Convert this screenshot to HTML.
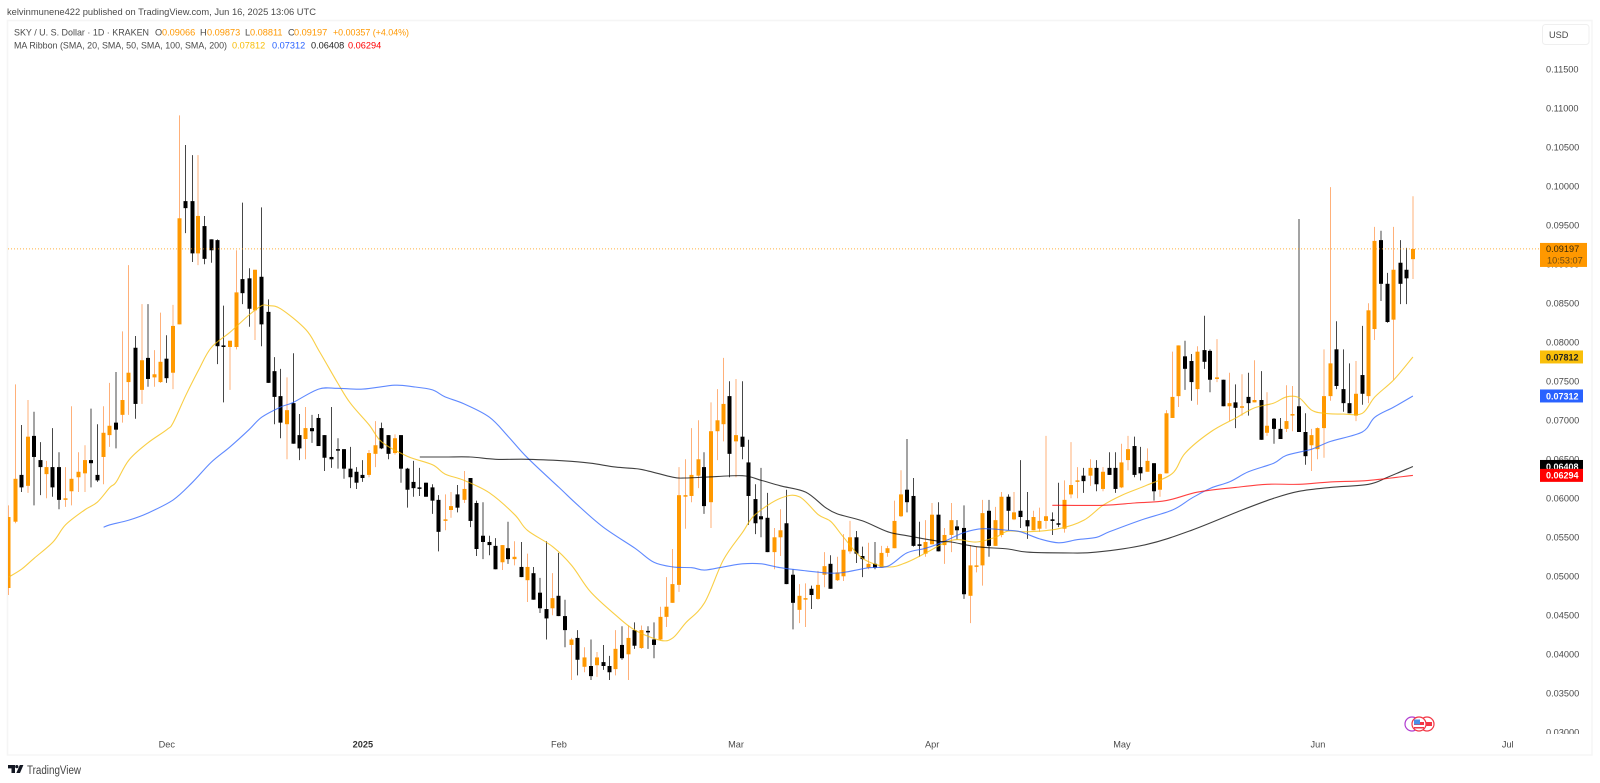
<!DOCTYPE html>
<html lang="en">
<head>
<meta charset="utf-8">
<title>SKY / U.S. Dollar 1D chart</title>
<style>
html,body{margin:0;padding:0;background:#fff;width:1600px;height:783px;overflow:hidden}
svg{display:block;filter:blur(0.3px)}
text{font-family:"Liberation Sans",sans-serif;font-size:9.2px;fill:#4a4a4a}
</style>
</head>
<body>
<svg id="chart" xmlns="http://www.w3.org/2000/svg" width="1600" height="783" viewBox="0 0 1600 783">
  <defs>
    <clipPath id="pane-clip"><rect x="8" y="21" width="1531" height="712"/></clipPath>
    <clipPath id="axis-clip"><rect x="1540" y="48" width="52" height="686"/></clipPath>
  </defs>
  <rect x="0" y="0" width="1600" height="783" fill="#ffffff"/>
  <rect x="7.5" y="20.5" width="1584.5" height="734.5" fill="none" stroke="#f5f5f5" stroke-width="1.5"/>

  <text x="7" y="15" textLength="309" lengthAdjust="spacingAndGlyphs">kelvinmunene422 published on TradingView.com, Jun 16, 2025 13:06 UTC</text>

  <g id="legend">
    <text x="14" y="35.5" textLength="135" lengthAdjust="spacingAndGlyphs">SKY / U. S. Dollar · 1D · KRAKEN</text>
    <text x="155" y="35.5">O</text>
    <text x="162" y="35.5" style="fill:#ff9800">0.09066</text>
    <text x="200" y="35.5">H</text>
    <text x="207" y="35.5" style="fill:#ff9800">0.09873</text>
    <text x="245" y="35.5">L</text>
    <text x="250" y="35.5" style="fill:#ff9800">0.08811</text>
    <text x="288" y="35.5">C</text>
    <text x="294" y="35.5" style="fill:#ff9800">0.09197</text>
    <text x="333" y="35.5" textLength="76" lengthAdjust="spacingAndGlyphs" style="fill:#ff9800">+0.00357 (+4.04%)</text>
    <text x="14" y="48.5" textLength="213" lengthAdjust="spacingAndGlyphs">MA Ribbon (SMA, 20, SMA, 50, SMA, 100, SMA, 200)</text>
    <text x="232" y="48.5" style="fill:#f7bd07">0.07812</text>
    <text x="272" y="48.5" style="fill:#2962ff">0.07312</text>
    <text x="311" y="48.5" style="fill:#222">0.06408</text>
    <text x="348" y="48.5" style="fill:#f00">0.06294</text>
  </g>

  <g id="pane" clip-path="url(#pane-clip)">
    <g id="candles"></g>
    <g id="mas"></g>
    <line id="last-price-line" x1="8" x2="1540" stroke="#ff9800" stroke-opacity="0.75" stroke-width="1" stroke-dasharray="1 2"/>
  </g>

  <g id="y-axis" clip-path="url(#axis-clip)"></g>
  <g id="x-axis"></g>
  <g id="y-badges"></g>

  <g>
    <rect x="1542.5" y="24.5" width="46.5" height="20" rx="3" fill="#fff" stroke="#efefef"/>
    <text x="1549" y="38" style="font-size:9.2px">USD</text>
  </g>

  <g>
    <circle cx="1412" cy="724" r="7" fill="#fff" stroke="#b03cd0" stroke-width="1.2"/>
    <circle cx="1427" cy="724" r="7" fill="#fff" stroke="#f23645" stroke-width="1.2"/>
    <rect x="1422" y="722" width="10" height="4" fill="#f23645"/>
    <circle cx="1419" cy="724" r="7" fill="#fff" stroke="#f23645" stroke-width="1.2"/>
    <rect x="1414" y="722" width="10" height="3" fill="#f23645"/>
    <rect x="1414" y="727" width="10" height="1.5" fill="#f23645"/>
    <rect x="1414" y="719.5" width="6" height="5" fill="#4a90e8"/>
  </g>

  <g>
    <path d="M8 765h7v8h-3.5v-4.6H8z M19.8 765h3.6l-3.4 8h-3.7z" fill="#131722"/>
    <circle cx="16.8" cy="766.6" r="1.6" fill="#131722"/>
    <text x="27" y="774" textLength="54" lengthAdjust="spacingAndGlyphs" style="font-size:11.5px;fill:#444">TradingView</text>
  </g>

<script>
// Price values are in units of 0.0001 USD; index = trading day from the left edge.
const PRICE_UNIT = 0.0001;
const opens = [
485,570,630,616,680,649,631,640,640,598,
609,627,632,649,630,653,681,697,707,749,
793,739,780,755,749,779,761,823,981,981,
914,949,932,931,796,794,794,881,882,841,
884,839,763,731,695,722,681,676,690,703,
681,653,663,663,638,634,630,630,657,690,
681,658,681,638,621,614,620,614,598,572,
585,605,598,626,594,552,544,539,518,536,
522,512,495,504,479,458,459,475,449,412,
421,384,385,386,390,385,381,412,400,431,
408,430,419,419,448,466,489,603,603,629,
640,595,686,695,731,673,679,646,599,577,
575,531,550,568,502,457,471,484,471,502,
516,495,500,532,550,526,511,516,511,530,
536,577,611,603,541,529,541,579,540,553,
564,562,475,513,514,584,539,553,602,573,
584,572,559,561,571,573,568,561,605,622,
629,629,639,612,639,639,614,649,667,640,
634,645,611,632,703,731,782,776,740,790,
789,753,752,718,723,717,730,723,726,684,
702,689,689,707,718,685,668,663,690,731,
791,740,722,706,758,731,817,931,875,829,
902,893,906.6];
const highs = [
591,746,694,726,711,672,648,690,659,640,
718,659,668,715,695,718,748,762,814,899,
808,849,849,790,838,809,848,1091,1053,1040,
1040,962,932,932,847,802,918,979,895,893,
973,855,781,766,755,786,708,717,707,708,
681,717,677,663,666,640,649,662,699,697,
681,682,681,639,648,639,620,618,604,605,
608,617,635,626,597,595,552,549,540,570,
545,544,529,512,498,545,504,530,470,421,
431,409,419,403,412,398,431,436,437,441,
437,436,441,461,499,535,640,650,690,700,
659,723,740,780,750,753,750,675,618,639,
607,562,586,611,509,490,491,488,507,531,
527,525,554,571,558,538,543,544,539,539,
597,636,676,626,570,572,594,595,562,594,
572,591,540,538,598,598,589,608,605,608,
649,608,584,588,680,582,620,623,672,640,
639,650,649,640,659,659,670,680,679,666,
664,645,632,713,788,796,802,785,795,834,
791,804,752,761,746,759,761,777,763,736,
703,703,745,744,958,709,689,691,791,999,
827,791,773,776,821,850,948,943,889,948,
931,921,987.3];
const lows = [
476,568,608,607,591,604,600,602,586,589,
591,608,608,614,621,618,666,664,697,707,
702,721,743,743,748,748,740,823,940,903,
899,900,902,772,723,739,791,849,820,803,
795,748,695,677,650,670,649,650,671,667,
635,639,638,625,613,612,621,627,640,663,
650,656,620,588,602,603,602,580,532,559,
575,582,594,563,526,522,527,509,508,516,
514,499,467,470,453,419,450,449,409,367,
373,377,367,371,380,367,373,393,367,407,
407,407,395,418,435,466,480,561,595,613,
580,562,649,673,627,627,650,566,554,550,
531,509,526,490,432,440,435,458,470,486,
484,494,494,529,517,499,509,509,511,525,
536,576,582,538,525,525,541,532,516,531,
547,471,440,505,488,525,539,550,559,572,
562,548,559,557,561,553,563,556,600,600,
607,616,609,609,630,607,613,636,627,623,
634,597,602,632,703,717,739,725,720,766,
736,749,718,699,690,706,706,723,675,680,
670,676,685,686,685,643,635,650,652,725,
740,711,709,699,720,722,803,853,825,752,
849,849,881.1];
const closes = [
576,625,614,679,653,640,640,614,598,600,
625,634,649,645,623,684,693,688,726,761,
721,777,753,759,775,754,821,959,972,914,
962,907,918,795,794,802,864,863,843,893,
823,748,730,697,713,670,664,690,686,667,
652,650,662,638,627,620,626,658,668,664,
657,677,638,611,613,613,602,597,557,573,
590,588,612,571,535,544,540,509,540,522,
525,499,512,470,459,446,472,449,431,419,
393,396,372,396,385,377,407,395,421,411,
431,429,412,448,461,490,604,604,630,650,
590,686,700,721,657,681,666,603,568,573,
531,550,559,490,466,475,472,476,489,513,
484,505,534,550,529,522,516,511,530,536,
571,605,595,539,539,544,579,532,553,572,
559,477,514,514,581,539,572,602,584,582,
576,564,576,571,577,571,567,598,617,623,
622,639,618,634,630,612,646,663,630,632,
648,609,631,709,730,796,766,749,788,775,
752,755,718,722,716,718,722,726,675,693,
689,676,699,708,685,654,681,690,731,773,
744,722,709,734,734,841,930,875,826,893,
875,882,919.7];

const ma20Days = [0,2,4,7,9,12,14,16,17,19,22,25,26,28,30,32,35,38,40,41,43,47,49,52,54,57,59,63,67,69,72,76,80,82,86,89,92,96,99,103,105,107,110,113,116,118,122,125,128,130,132,135,139,142,145,148,150,153,156,158,161,166,170,173,176,180,184,186,190,194,197,200,202,204,206,208,211,214,216,219,222];
const ma20Values = [499,509,523,544,566,585,595,614,621,649,671,688,697,732,764,793,813,835,847,847,843,816,790,748,722,694,672,654,643,631,623,607,579,559,538,514,480,450,431,418,421,440,466,521,556,579,600,602,579,570,550,523,512,518,530,543,547,544,550,558,557,561,572,591,604,617,632,658,685,703,716,722,730,729,713,709,708,709,730,752,781.2];
const ma50Days = [15,16,19,22,26,29,32,35,38,40,43,45,49,52,56,61,64,67,69,72,76,79,82,87,90,94,99,102,105,108,110,113,116,119,122,126,130,132,136,139,142,145,148,151,154,158,160,163,166,169,172,174,179,184,187,190,193,196,200,202,206,209,214,216,219,222];
const ma50Values = [563,566,572,581,598,620,646,666,688,704,717,723,740,741,740,745,743,739,730,721,704,679,652,614,591,563,536,518,512,511,508,512,516,516,511,507,504,505,511,513,530,536,545,556,561,559,557,548,543,547,550,557,572,585,600,613,621,634,645,655,663,673,685,704,717,731.2];
const ma100Days = [65,69,73,77,82,88,92,96,100,105,107,110,116,119,122,126,129,131,135,139,142,147,149,153,158,161,167,172,180,187,195,200,204,209,215,218,222];
const ma100Values = [653,653,653,650,650,648,645,640,637,627,626,627,629,623,616,608,589,580,571,557,552,545,544,538,535,531,530,531,541,559,585,600,609,614,618,627,640.8];
const ma200Days = [165,173,178,183,188,194,199,204,209,215,222];
const ma200Values = [591,591,594,597,608,614,618,618,621,623,629.4];

const priceTicks = [0.03,0.035,0.04,0.045,0.05,0.055,0.06,0.065,0.07,0.075,0.08,0.085,0.09,0.095,0.1,0.105,0.11,0.115];
const monthLabels = ["Dec","2025","Feb","Mar","Apr","May","Jun","Jul"];
const monthDays = [25,56,87,115,146,176,207,237];
const lastPrice = 0.09197;
const countdownText = "10:53:07";
const maBadgeValues = [0.07812,0.07312,0.06408,0.06294];
const maBadgeNames = ["ma20-badge","ma50-badge","ma100-badge","ma200-badge"];
const maBadgeFills = ["#f9bf0a","#2962ff","#000000","#ff0000"];
const maBadgeInk = ["#222222","#ffffff","#ffffff","#ffffff"];

const NS = "http://www.w3.org/2000/svg";
const xOf = d => 8.7 + 6.325 * d;
const yOf = p => 186.3 + (0.1 - p) * 7800;
const yU = v => yOf(v * PRICE_UNIT);
function make(tag, parent, attrs) {
  const el = document.createElementNS(NS, tag);
  for (const k in attrs) el.setAttribute(k, attrs[k]);
  parent.appendChild(el);
  return el;
}

const candleRoot = document.getElementById("candles");
opens.forEach((o, i) => {
  const c = closes[i], up = c >= o;
  const color = up ? "#ff9800" : "#000000";
  const wickColor = up ? "#ff8a3a" : "#000000";
  const xr = xOf(i);
  const ph = (((i - 3.6) / 4.45) % 1 + 1) % 1;
  const straddle = Math.min(ph, 1 - ph) < 0.14;
  const wx = straddle ? Math.round(xr) : Math.floor(xr) + 0.5;
  const wick = make("line", candleRoot, {x1: wx, x2: wx, y1: yU(highs[i]), y2: yU(lows[i]), stroke: wickColor, "stroke-width": 1, "stroke-opacity": up ? 0.68 : 0.72});
  
  
  const top = yU(Math.max(o, c)), bot = yU(Math.min(o, c));
  const h = Math.max(bot - top, 1.5);
  const body = make("rect", candleRoot, {x: wx - 2, y: top, width: 4, height: h, fill: color});
  
  
});

const maRoot = document.getElementById("mas");
function drawLine(days, values, color, name) {
  const p = days.map((d, i) => [xOf(d), yU(values[i])]);
  let path = "M" + p[0][0].toFixed(1) + " " + p[0][1].toFixed(1);
  for (let i = 0; i < p.length - 1; i++) {
    const a = p[Math.max(0, i - 1)], b = p[i], c = p[i + 1], d = p[Math.min(p.length - 1, i + 2)];
    const c1x = b[0] + (c[0] - a[0]) / 6, c1y = b[1] + (c[1] - a[1]) / 6;
    const c2x = c[0] - (d[0] - b[0]) / 6, c2y = c[1] - (d[1] - b[1]) / 6;
    path += "C" + c1x.toFixed(1) + " " + c1y.toFixed(1) + " " + c2x.toFixed(1) + " " + c2y.toFixed(1) + " " + c[0].toFixed(1) + " " + c[1].toFixed(1);
  }
  const line = make("path", maRoot, {d: path, fill: "none", stroke: color, "stroke-width": 1.1, "stroke-opacity": 0.75, "stroke-linejoin": "round"});
  
  
}
drawLine(ma20Days, ma20Values, "#f7bd07", "ma20-line");
drawLine(ma50Days, ma50Values, "#2962ff", "ma50-line");
drawLine(ma100Days, ma100Values, "#000000", "ma100-line");
drawLine(ma200Days, ma200Values, "#ff0000", "ma200-line");

const lpl = document.getElementById("last-price-line");
lpl.setAttribute("y1", yOf(lastPrice));
lpl.setAttribute("y2", yOf(lastPrice));

const yAxis = document.getElementById("y-axis");
priceTicks.forEach(p => {
  const t = make("text", yAxis, {x: 1546, y: yOf(p) + 3.3});
  t.textContent = p.toFixed(5);
  
  
});

const xAxis = document.getElementById("x-axis");
monthLabels.forEach((m, i) => {
  const t = make("text", xAxis, {x: xOf(monthDays[i]), y: 747.5, "text-anchor": "middle"});
  t.textContent = m;
  if (m === "2025") t.setAttribute("style", "font-weight:bold;fill:#333");
  
  
});

const badgeRoot = document.getElementById("y-badges");
const lastY = yOf(lastPrice);
const lastBox = make("rect", badgeRoot, {x: 1540, y: lastY - 6, width: 47, height: 24, fill: "#ff9800"});


const lastText = make("text", badgeRoot, {x: 1546, y: lastY + 3.3, style: "fill:#3a2a0a"});
lastText.textContent = lastPrice.toFixed(5);


const cdText = make("text", badgeRoot, {x: 1547, y: lastY + 14.5, style: "fill:#6b4a12"});
cdText.textContent = countdownText;


maBadgeValues.forEach((v, i) => {
  const y = yOf(v);
  const box = make("rect", badgeRoot, {x: 1540, y: y - 6.5, width: 43, height: 13, fill: maBadgeFills[i]});
  
  
  const t = make("text", badgeRoot, {x: 1546, y: y + 3.3, style: "font-weight:bold;font-size:9px;fill:" + maBadgeInk[i]});
  t.textContent = v.toFixed(5);
  
  
});
</script>
</svg>
</body>
</html>
